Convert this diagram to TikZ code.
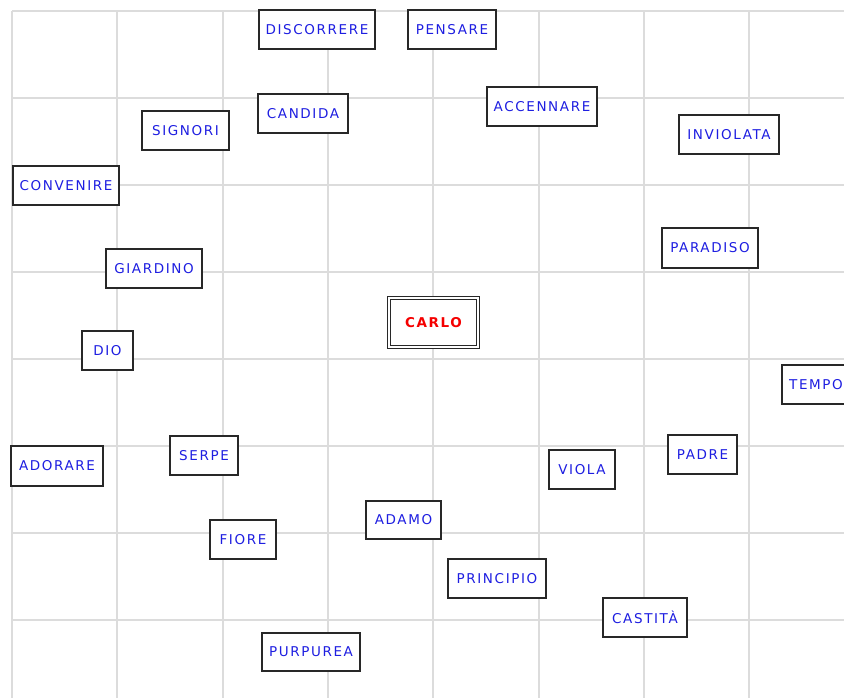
\documentclass[tikz,border=0pt]{standalone}
\usepackage{fontspec}
\setmainfont{DejaVu Sans}[LetterSpace=12]
\definecolor{gridgray}{RGB}{220,220,220}
\definecolor{boxline}{RGB}{40,40,40}
\definecolor{wordblue}{RGB}{30,30,225}
\definecolor{centerred}{RGB}{245,0,0}
\begin{document}
\begin{tikzpicture}[x=1pt,y=-1pt,
  wbox/.style={draw=boxline, line width=1.6pt, fill=white, rectangle, inner sep=0pt,
    text=wordblue, font=\fontsize{13.5}{15}\selectfont},
  cbox/.style={draw=boxline, line width=1.3pt, double=white, double distance=1.6pt, fill=white,
    rectangle, inner sep=0pt, text=centerred, font=\fontsize{13.5}{15}\selectfont\bfseries},
  gridline/.style={draw=gridgray, line width=2pt}]
\clip (0,0) rectangle (844,698);
\useasboundingbox (0,0) rectangle (844,698);
\fill[white] (0,0) rectangle (844,698);
% grid
\foreach \gx in {12,117,223,328,433,539,644,749}
  \draw[gridline] (\gx,11) -- (\gx,698);
\foreach \gy in {11,98,185,272,359,446,533,620}
  \draw[gridline] (12,\gy) -- (844,\gy);
% words
\node[wbox, minimum width=116.4pt, minimum height=39.4pt] (discorrere) at (317,29.5) {DISCORRERE};
\node[wbox, minimum width=88.4pt, minimum height=39.4pt] (pensare) at (452,29.5) {PENSARE};
\node[wbox, minimum width=90.4pt, minimum height=39.4pt] (candida) at (303,113.5) {CANDIDA};
\node[wbox, minimum width=87.4pt, minimum height=39.4pt] (signori) at (185.5,130.5) {SIGNORI};
\node[wbox, minimum width=110.4pt, minimum height=39.4pt] (accennare) at (542,106.5) {ACCENNARE};
\node[wbox, minimum width=100.4pt, minimum height=39.4pt] (inviolata) at (729,134.5) {INVIOLATA};
\node[wbox, minimum width=106.4pt, minimum height=39.4pt] (convenire) at (66,185.5) {CONVENIRE};
\node[wbox, minimum width=96.4pt, minimum height=40.4pt] (paradiso) at (710,248) {PARADISO};
\node[wbox, minimum width=96.4pt, minimum height=39.4pt] (giardino) at (154,268.5) {GIARDINO};
\node[cbox, minimum width=88.5pt, minimum height=48.5pt] (carlo) at (433.5,322.5) {CARLO};
\node[wbox, minimum width=51.4pt, minimum height=39.4pt] (dio) at (107.5,350.5) {DIO};
\node[wbox, minimum width=68.4pt, minimum height=39.4pt] (tempo) at (816,384.5) {TEMPO};
\node[wbox, minimum width=92.4pt, minimum height=40.4pt] (adorare) at (57,466) {ADORARE};
\node[wbox, minimum width=68.4pt, minimum height=39.4pt] (serpe) at (204,455.5) {SERPE};
\node[wbox, minimum width=69.4pt, minimum height=39.4pt] (padre) at (702.5,454.5) {PADRE};
\node[wbox, minimum width=66.4pt, minimum height=39.4pt] (viola) at (582,469.5) {VIOLA};
\node[wbox, minimum width=75.4pt, minimum height=38.4pt] (adamo) at (403.5,520) {ADAMO};
\node[wbox, minimum width=66.4pt, minimum height=39.4pt] (fiore) at (243,539.5) {FIORE};
\node[wbox, minimum width=98.4pt, minimum height=39.4pt] (principio) at (497,578.5) {PRINCIPIO};
\node[wbox, minimum width=84.4pt, minimum height=39.4pt] (castita) at (645,617.5) {CASTITÀ};
\node[wbox, minimum width=98.4pt, minimum height=38.4pt] (purpurea) at (311,652) {PURPUREA};
\end{tikzpicture}
\end{document}
